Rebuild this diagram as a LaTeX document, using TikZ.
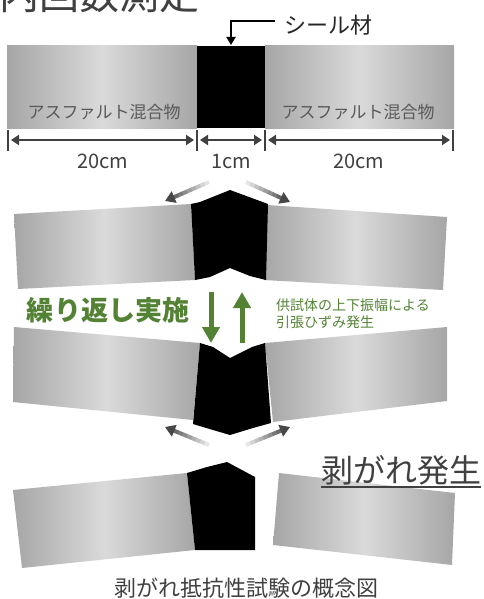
\documentclass[tikz,border=0pt]{standalone}
\usepackage{fontspec}
\setmainfont{Noto Sans CJK JP}
\usetikzlibrary{arrows.meta,calc}

\definecolor{ink}{HTML}{404040}
\definecolor{labelgray}{HTML}{595959}
\definecolor{mixdark}{HTML}{A6A6A6}
\definecolor{mixlight}{HTML}{DADADA}
\definecolor{leafgreen}{HTML}{548235}

\tikzset{
  mix/.style={left color=mixdark,right color=mixdark,middle color=mixlight},
  dimline/.style={draw=ink,line width=2.5pt,
    {Triangle[length=8pt,width=10pt]}-{Triangle[length=8pt,width=10pt]}},
  dimtick/.style={draw=ink,line width=2pt},
  greenarrow/.style={draw=leafgreen,line width=5pt,-{Triangle[length=16pt,width=17pt]}},
}

% gray arrow that fades in from its tail to its head
\newcommand{\fadearrow}[2]{%
  \foreach \k [evaluate=\k as \gv using int(10+7*\k)] in {0,...,8}
    \draw[line width=4pt,black!\gv] ($(#1)!\k/10!(#2)$) -- ($(#1)!\k/10+0.11!(#2)$);
  \draw[line width=4pt,black!72,-{Triangle[length=10pt,width=12pt]}]
    ($(#1)!0.85!(#2)$) -- (#2);
}

\begin{document}
\begin{tikzpicture}[x=1pt,y=-1pt]
  \useasboundingbox (0,0) rectangle (484,599);

  % heading, runs off the top edge
  \begin{scope}
    \clip (0,0) rectangle (484,599);
    \node[anchor=base west,inner sep=0pt,text=ink,
      font=\fontsize{40}{40}\selectfont] (title) at (-1,10) {内回数測定};
  \end{scope}

  % specimen before the test
  \shade[mix] (7,46) rectangle (197,128);
  \shade[mix] (265,46) rectangle (454,128);
  \fill (197,46) rectangle (265,128);
  \coordinate (sealtop) at (231,45);

  \begin{scope}[every node/.style={inner sep=0pt,text=labelgray,
      font=\fontsize{17}{17}\selectfont}]
    \node (mixL) at (104,112) {アスファルト混合物};
    \node (mixR) at (358,112) {アスファルト混合物};
  \end{scope}

  \node[font=\fontsize{22}{22}\selectfont,text=black!85] (seal) at (328,25) {シール材};
  \draw[line width=2pt,-{Triangle[length=8pt,width=9pt]}]
    ($(seal.west)+(-5,-4)$) -| (sealtop);

  % dimensions
  \foreach \x [count=\i from 0] in {8,197,265,453}
    \coordinate (d\i) at (\x,140);
  \foreach \i in {0,...,3}
    \draw[dimtick] ($(d\i)+(0,-10)$) -- ($(d\i)+(0,11)$);
  \draw[dimline] ($(d0)+(3,0)$) -- ($(d1)+(-3,0)$);
  \draw[dimline] ($(d1)+(3,0)$) -- ($(d2)+(-3,0)$);
  \draw[dimline] ($(d2)+(3,0)$) -- ($(d3)+(-3,0)$);

  \begin{scope}[every node/.style={text=ink,font=\fontsize{20}{20}\selectfont}]
    \node (lenL) at ($(d0)!0.5!(d1)+(0,21)$) {20cm};
    \node (lenM) at ($(d1)!0.5!(d2)+(0,21)$) {1cm};
    \node (lenR) at ($(d2)!0.5!(d3)+(0,21)$) {20cm};
  \end{scope}

  % bent upwards
  \shade[mix] (14,214) -- (191,204) -- (195,280) -- (18,289) -- cycle;
  \shade[mix] (267,205) -- (447,217) -- (443,290) -- (264,280) -- cycle;
  \fill (191,204) -- (200,202) -- (230,190) -- (268,204) -- (266,280)
    -- (250,276) -- (230,268) -- (210,277) -- (195,280) -- cycle;

  % bent downwards
  \shade[mix] (14,327) -- (200,343) -- (193,420) -- (13,402) -- cycle;
  \shade[mix] (265,343) -- (447,327) -- (447,401) -- (273,422) -- cycle;
  \fill (200,343) -- (213,347) -- (230,358) -- (252,347) -- (265,343) -- (271,423)
    -- (253,428) -- (230,435) -- (213,430) -- (193,424) -- cycle;

  % after peeling
  \shade[mix] (13,490) -- (187,473) -- (195,550) -- (22,568) -- cycle;
  \shade[mix] (279,473) -- (455,493) -- (452,565) -- (273,545) -- cycle;
  \fill (187,473) -- (207,467) -- (227,462) -- (255,477) -- (255,550) -- (195,550) -- cycle;

  % pulling apart
  \coordinate (pullL1) at (209,182);
  \coordinate (tipL1)  at (165,201);
  \coordinate (pullR1) at (246,182);
  \coordinate (tipR1)  at (290,202);
  \coordinate (pullL2) at (209,445);
  \coordinate (tipL2)  at (165,427);
  \coordinate (pullR2) at (246,445);
  \coordinate (tipR2)  at (290,427);
  \fadearrow{pullL1}{tipL1}
  \fadearrow{pullR1}{tipR1}
  \fadearrow{pullL2}{tipL2}
  \fadearrow{pullR2}{tipR2}

  % cycling
  \node[text=leafgreen,font=\fontsize{27}{27}\selectfont\bfseries] (cycle) at (108,310) {繰り返し実施};
  \coordinate (downA) at (211,292);
  \coordinate (downB) at (211,343);
  \coordinate (upA) at (242,343);
  \coordinate (upB) at (242,292);
  \draw[greenarrow] (downA) -- (downB);
  \draw[greenarrow] (upA) -- (upB);
  \node[anchor=west,align=left,inner sep=0pt,text=leafgreen,
    font=\fontsize{14}{17}\selectfont] (strain) at (276,314)
    {供試体の上下振幅による\\引張ひずみ発生};

  \node[anchor=base west,inner sep=0pt,text=ink,
    font=\fontsize{32}{32}\selectfont] (peel) at (321,482) {剥がれ発生};
  \draw[ink,line width=1.5pt] ($(peel.base west)+(0,5)$) -- ($(peel.base east)+(0,5)$);

  \node[text=ink,font=\fontsize{22}{22}\selectfont] (caption) at (246,588) {剥がれ抵抗性試験の概念図};
\end{tikzpicture}
\end{document}
